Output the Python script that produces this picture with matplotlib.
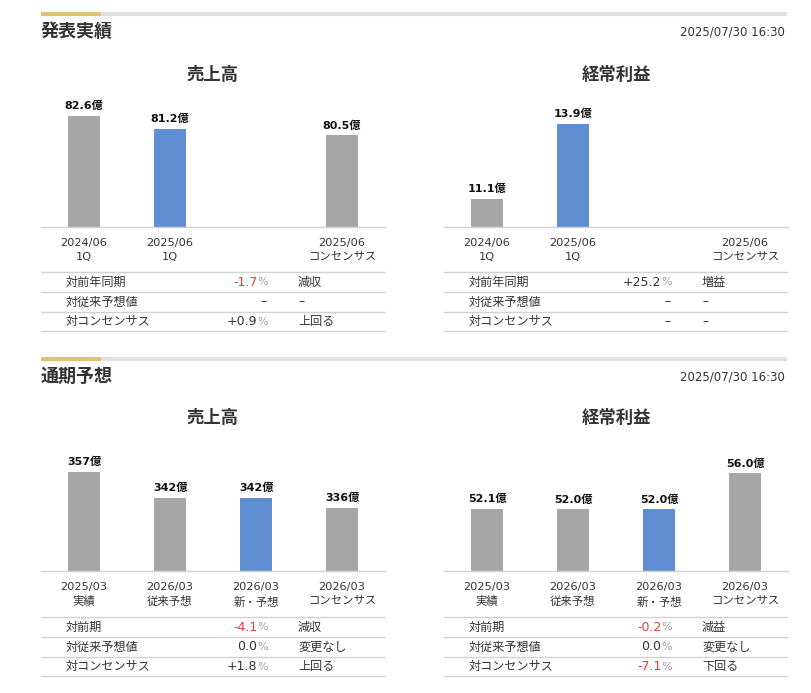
import matplotlib
matplotlib.use("Agg")
import matplotlib.pyplot as plt
from matplotlib.lines import Line2D
import numpy as np

plt.rcParams['font.family'] = ['DejaVu Sans', 'Noto Sans CJK JP']

# ---------------- data ----------------
section_titles = ["発表実績", "通期予想"]
timestamp = "2025/07/30 16:30"
chart_titles = ["売上高", "経常利益"]

q_labels = ["2024/06\n1Q", "2025/06\n1Q", "", "2025/06\nコンセンサス"]
q_sales = [82.6, 81.2, np.nan, 80.5]
q_profit = [11.1, 13.9, np.nan, np.nan]
q_highlight = [False, True, False, False]

fy_labels = ["2025/03\n実績", "2026/03\n従来予想", "2026/03\n新・予想", "2026/03\nコンセンサス"]
fy_sales = [357, 342, 342, 336]
fy_profit = [52.1, 52.0, 52.0, 56.0]
fy_highlight = [False, False, True, False]

q_sales_rows = [("対前年同期", "-1.7", "減収"), ("対従来予想値", None, "–"), ("対コンセンサス", "+0.9", "上回る")]
q_profit_rows = [("対前年同期", "+25.2", "増益"), ("対従来予想値", None, "–"), ("対コンセンサス", None, "–")]
fy_sales_rows = [("対前期", "-4.1", "減収"), ("対従来予想値", "0.0", "変更なし"), ("対コンセンサス", "+1.8", "上回る")]
fy_profit_rows = [("対前期", "-0.2", "減益"), ("対従来予想値", "0.0", "変更なし"), ("対コンセンサス", "-7.1", "下回る")]

# ---------------- style ----------------
W, H = 811, 693
GRAY = "#a6a6a6"
BLUE = "#5f8fd2"
GOLD = "#dcc472"
SEP = "#e0e0e0"
LINE = "#d2d2d2"
TXT = "#333333"
RED = "#e0403a"
PCT = "#a0a0a0"

fig = plt.figure(figsize=(W / 100, H / 100), dpi=100)
fig.patch.set_facecolor("white")

def fx(px):
    return px / W

def fy(py):
    return 1 - py / H

def hline(x0, x1, y, color, lw):
    fig.add_artist(Line2D([fx(x0), fx(x1)], [fy(y), fy(y)], transform=fig.transFigure,
                          color=color, lw=lw, solid_capstyle="butt"))

renderer = fig.canvas.get_renderer()

def section_header(title, y_bar, y_title):
    hline(41, 101, y_bar, GOLD, 3.0)
    hline(101, 787, y_bar, SEP, 3.0)
    fig.text(fx(41), fy(y_title), title, fontsize=13, fontweight="bold", color=TXT,
             ha="left", va="center")
    fig.text(fx(785), fy(y_title), timestamp, fontsize=8.5, color=TXT, ha="right", va="center")

def bar_chart(x0, x1, y_top, y_base, title, title_y, values, labels, highlight, ylim):
    ax = fig.add_axes([fx(x0), fy(y_base), (x1 - x0) / W, (y_base - y_top) / H])
    xs = np.arange(len(values))
    colors = [BLUE if h else GRAY for h in highlight]
    vals = np.array(values, dtype=float)
    ax.bar(xs, np.where(np.isnan(vals), 0, vals - ylim[0]), bottom=ylim[0],
           width=32 / 86, color=colors)
    for xi, v in zip(xs, vals):
        if not np.isnan(v):
            txt = f"{v:.0f}億" if v >= 100 else f"{v:.1f}億"
            ax.annotate(txt, (xi, v), xytext=(0, 3.5), textcoords="offset points",
                        ha="center", va="bottom", fontsize=8, fontweight="bold", color="#111111")
    ax.set_xlim(-0.5, len(values) - 0.5)
    ax.set_ylim(*ylim)
    ax.set_yticks([])
    ax.set_xticks(xs)
    ax.set_xticklabels(labels, fontsize=8.2, color=TXT, linespacing=1.5)
    ax.tick_params(axis="x", length=0, pad=8)
    for s in ["top", "left", "right"]:
        ax.spines[s].set_visible(False)
    ax.spines["bottom"].set_color(LINE)
    ax.spines["bottom"].set_linewidth(1.0)
    ax.patch.set_alpha(0)
    fig.text(fx((x0 + x1) / 2), fy(title_y), title, fontsize=12.5, fontweight="bold",
             color=TXT, ha="center", va="center")
    return ax

def table(x0, x1, lines_y, rows, lab_x, val_x, col3_x):
    for y in lines_y:
        hline(x0, x1, y, LINE, 1.0)
    for i, (lab, val, note) in enumerate(rows):
        yc = (lines_y[i] + lines_y[i + 1]) / 2 + 0.5
        fig.text(fx(lab_x), fy(yc), lab, fontsize=8.7, color=TXT, ha="left", va="center")
        if val is None:
            fig.text(fx(val_x - 1), fy(yc), "–", fontsize=9, color=TXT, ha="right", va="center")
        else:
            p = fig.text(fx(val_x), fy(yc), "%", fontsize=8, color=PCT, ha="right", va="center")
            bb = p.get_window_extent(renderer)
            col = RED if val.startswith("-") else TXT
            fig.text(bb.x0 / W, fy(yc), val, fontsize=9, color=col, ha="right", va="center")
        fig.text(fx(col3_x), fy(yc), note, fontsize=8.7, color=TXT, ha="left", va="center")

# ---------------- top section ----------------
section_header(section_titles[0], 14, 32)
bar_chart(41, 385, 95, 226.7, chart_titles[0], 74.5, q_sales, q_labels, q_highlight, (70.9, 84.76))
bar_chart(444, 788, 95, 226.7, chart_titles[1], 74.5, q_profit, q_labels, q_highlight, (10.06, 14.97))
table(41, 385, [272, 291.5, 311.5, 331], q_sales_rows, 66, 268, 298)
table(443, 788, [272, 291.5, 311.5, 331], q_profit_rows, 469, 672, 702)

# ---------------- bottom section ----------------
section_header(section_titles[1], 359, 377)
bar_chart(41, 385, 440, 570.7, chart_titles[0], 418, fy_sales, fy_labels, fy_highlight, (300.0, 375.4))
bar_chart(444, 788, 440, 570.7, chart_titles[1], 418, fy_profit, fy_labels, fy_highlight, (45.2, 59.72))
table(41, 385, [617, 636.5, 656.5, 675.5], fy_sales_rows, 66, 268, 298)
table(443, 788, [617, 636.5, 656.5, 675.5], fy_profit_rows, 469, 672, 702)

fig.savefig("out.png", dpi=100, facecolor="white")
